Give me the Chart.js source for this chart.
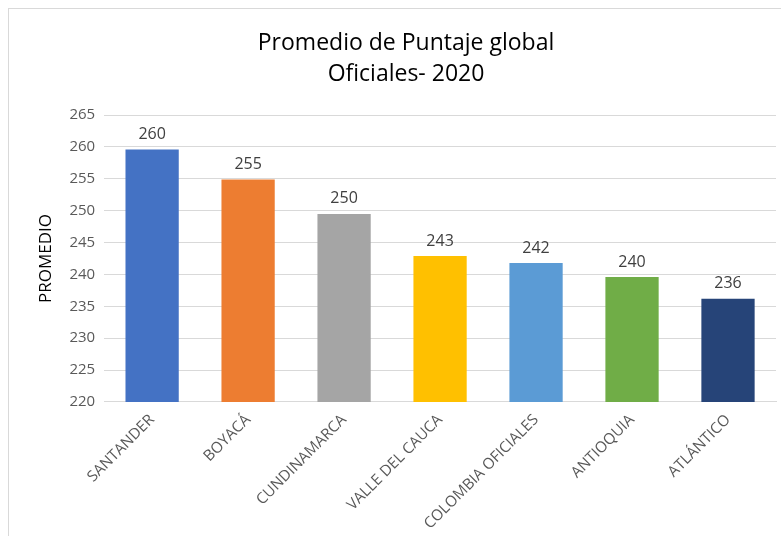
<!DOCTYPE html>
<html>
<head>
<meta charset="utf-8">
<script src="https://cdn.jsdelivr.net/npm/chart.js@4.4.0/dist/chart.umd.min.js"></script>
<style>
    html, body { margin: 0; padding: 0; background: #fff; }
    #frame {
        position: absolute; left: 8px; top: 8px;
        width: 790px; height: 540px;
        border: 1px solid #d9d9d9; box-sizing: border-box;
    }
    #wrap { position: absolute; left: 0; top: 0; width: 781px; height: 536px; }
</style>
</head>
<body>
<div id="frame"></div>
<div id="wrap"><canvas id="chart" width="781" height="536"></canvas></div>
<script>
// Data
const categories = ['SANTANDER', 'BOYACÁ', 'CUNDINAMARCA', 'VALLE DEL CAUCA', 'COLOMBIA OFICIALES', 'ANTIOQUIA', 'ATLÁNTICO'];
const promedio = [259.6, 254.9, 249.5, 242.9, 241.8, 239.6, 236.2];
const barColors = ['#4472c4', '#ed7d31', '#a5a5a5', '#ffc000', '#5b9bd5', '#70ad47', '#264478'];
const yTicks = [220, 225, 230, 235, 240, 245, 250, 255, 260, 265];

const FONT = "'Open Sans', 'Liberation Sans', sans-serif";

// Value labels above each bar
const valueLabels = {
    id: 'valueLabels',
    afterDatasetsDraw(chart) {
        const ctx = chart.ctx;
        const meta = chart.getDatasetMeta(0);
        ctx.save();
        ctx.font = '16px ' + FONT;
        ctx.fillStyle = '#404040';
        ctx.textAlign = 'center';
        ctx.textBaseline = 'bottom';
        meta.data.forEach((bar, i) => {
            ctx.fillText(Math.round(promedio[i]), bar.x, bar.y - 7);
        });
        ctx.restore();
    }
};

new Chart(document.getElementById('chart'), {
    type: 'bar',
    data: {
        labels: categories,
        datasets: [{
            data: promedio,
            backgroundColor: barColors,
            categoryPercentage: 1,
            barPercentage: 0.555
        }]
    },
    options: {
        responsive: false,
        animation: false,
        layout: { padding: { left: 36, right: 5, top: 28, bottom: 2 } },
        plugins: {
            legend: { display: false },
            tooltip: { enabled: false },
            title: {
                display: true,
                text: ['Promedio de Puntaje global', 'Oficiales- 2020'],
                color: '#000',
                font: { family: FONT, size: 23, weight: 'normal', lineHeight: 1.35 },
                padding: { top: 0, bottom: 25 }
            }
        },
        scales: {
            y: {
                min: 220,
                max: 265,
                afterBuildTicks: axis => {
                    axis.ticks = yTicks.map(v => ({ value: v }));
                },
                grid: { color: '#d9d9d9', lineWidth: 1, drawTicks: false },
                border: { display: false },
                ticks: {
                    color: '#595959',
                    font: { family: FONT, size: 15 },
                    padding: 9
                },
                title: {
                    display: true,
                    text: 'PROMEDIO',
                    color: '#000',
                    font: { family: FONT, size: 17 },
                    padding: { top: 0, bottom: 4 }
                }
            },
            x: {
                grid: { display: false },
                border: { color: '#d9d9d9' },
                ticks: {
                    color: '#595959',
                    font: { family: FONT, size: 15.2 },
                    minRotation: 45,
                    maxRotation: 45,
                    padding: 1
                }
            }
        }
    },
    plugins: [valueLabels]
});
</script>
</body>
</html>
